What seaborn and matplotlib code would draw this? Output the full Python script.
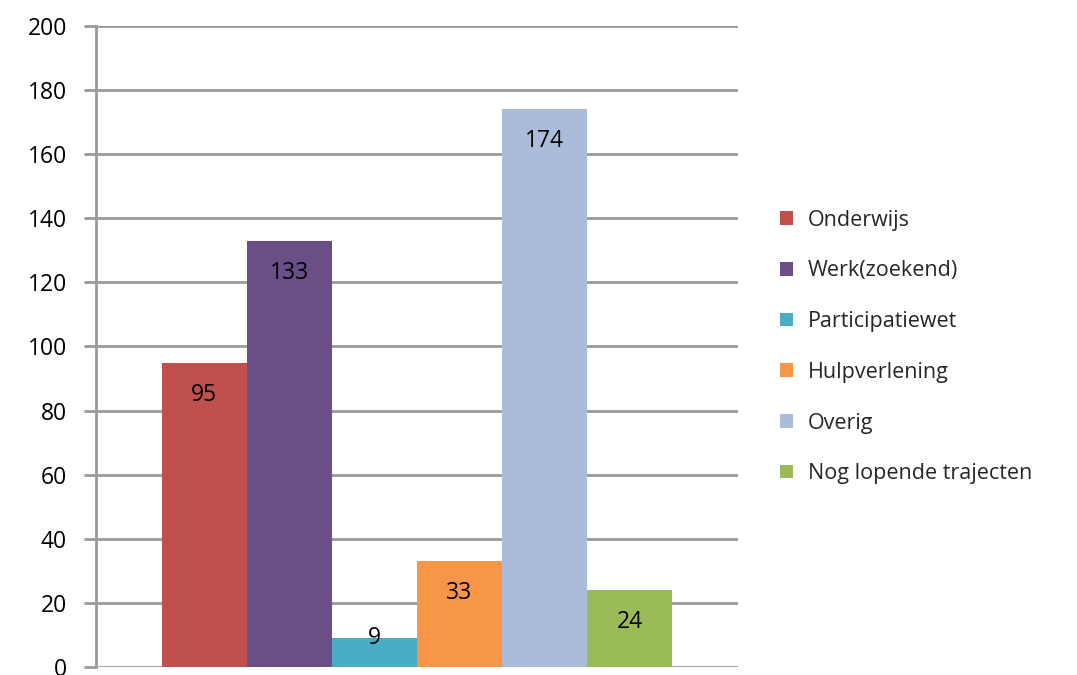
import numpy as np
import pandas as pd
import matplotlib.pyplot as plt
import seaborn as sns
from matplotlib.patches import Patch

categories = ['Onderwijs', 'Werk(zoekend)', 'Participatiewet', 'Hulpverlening',
              'Overig', 'Nog lopende trajecten']
values = [95, 133, 9, 33, 174, 24]
colors = ['#C0504D', '#6A4F86', '#4BACC6', '#F79646', '#AABCDA', '#9BBB59']
yticks = list(range(0, 201, 20))

sns.set_style('white')
plt.rcParams['font.family'] = ['Open Sans', 'DejaVu Sans']

df = pd.DataFrame({'cat': categories, 'val': values})

fig = plt.figure(figsize=(10.77, 6.75), dpi=100)
ax = fig.add_axes([0.0891, 0.0119, 0.5961, 0.9496])

sns.barplot(data=df, x='cat', y='val', hue='cat', palette=colors,
            width=1.0, saturation=1, linewidth=0, legend=False, ax=ax)

# data labels inside the bar end
for i, v in enumerate(values):
    y = v - 10 if v > 20 else v
    ax.text(i, y, str(v), ha='center', va='center', fontsize=16.5, color='black')

ax.set_xlim(-1.27, 6.27)
ax.set_ylim(0, 200)
ax.set_yticks(yticks)
ax.set_xticks([])
ax.set_xlabel('')
ax.set_ylabel('')
ax.yaxis.grid(True, color='#999999', linewidth=2)
ax.set_axisbelow(True)
for s in ['top', 'right', 'bottom']:
    ax.spines[s].set_visible(False)
ax.spines['left'].set_color('#999999')
ax.spines['left'].set_linewidth(2)
ax.tick_params(axis='y', direction='out', length=9, width=2, color='#999999',
               labelsize=16.5, labelcolor='black', pad=12, left=True)

handles = [Patch(facecolor=c, edgecolor='none') for c in colors]
fig.legend(handles, categories, loc='center left', bbox_to_anchor=(0.724, 0.486),
           frameon=False, fontsize=15.5, handlelength=0.6, handleheight=0.6,
           handletextpad=0.7, labelspacing=1.38, borderpad=0, borderaxespad=0)

fig.savefig('out.png', dpi=100)
